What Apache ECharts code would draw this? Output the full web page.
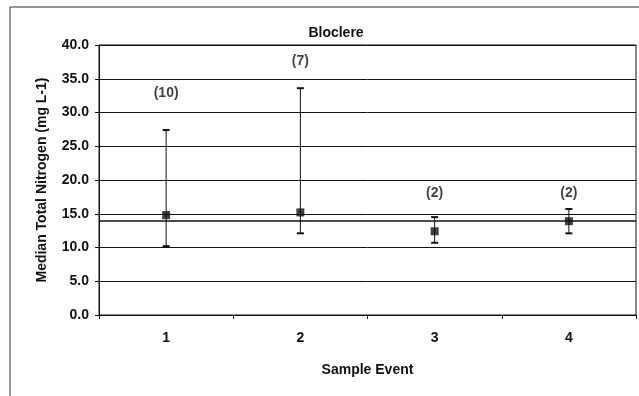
<!DOCTYPE html>
<html>
<head>
<meta charset="utf-8">
<script src="https://cdn.jsdelivr.net/npm/echarts@6/dist/echarts.min.js"></script>
<style>
  html, body { margin: 0; padding: 0; background: #fff; }
  #chart { width: 639px; height: 396px; }
</style>
</head>
<body>
<div id="chart"></div>
<script>
// sample events and medians (mg L-1)
const events = ['1', '2', '3', '4']
const medians = [14.8, 15.2, 12.4, 13.9]
const lows = [10.2, 12.1, 10.7, 12.1]
const highs = [27.4, 33.6, 14.5, 15.7]
// sample counts shown above each event, and where they sit
const counts = ['(10)', '(7)', '(2)', '(2)']
const countY = [32.9, 37.6, 18.1, 18.1]
const refLine = 13.9

const font = 'Liberation Sans, Arial, sans-serif'
const chart = echarts.init(document.getElementById('chart'))

const option = {
  animation: false,
  backgroundColor: '#fff',
  title: {
    text: 'Bloclere',
    left: 331,
    top: 21,
    textAlign: 'center',
    textStyle: { fontFamily: font, fontSize: 14, fontWeight: 'bold', color: '#111' },
  },
  graphic: [
    {
      type: 'rect',
      shape: { x: 10, y: 7, width: 640, height: 400 },
      style: { fill: 'none', stroke: '#333', lineWidth: 1 },
    },
  ],
  grid: { left: 99, right: 3, top: 45, bottom: 81, show: true, borderColor: '#111', borderWidth: 1 },
  xAxis: {
    type: 'category',
    data: events,
    boundaryGap: true,
    name: 'Sample Event',
    nameLocation: 'middle',
    nameGap: 48,
    nameTextStyle: { fontFamily: font, fontSize: 14, fontWeight: 'bold', color: '#111' },
    axisLine: { lineStyle: { color: '#111', width: 1 } },
    axisTick: { show: true, length: 4, alignWithLabel: false, lineStyle: { color: '#111' } },
    axisLabel: { fontFamily: font, fontSize: 14, fontWeight: 'bold', color: '#111', margin: 16 },
    splitLine: { show: false },
  },
  yAxis: {
    type: 'value',
    min: 0,
    max: 40,
    interval: 5,
    name: 'Median Total Nitrogen (mg L-1)',
    nameLocation: 'middle',
    nameGap: 50,
    nameTextStyle: { fontFamily: font, fontSize: 14, fontWeight: 'bold', color: '#111' },
    axisLine: { show: true, lineStyle: { color: '#111', width: 1 } },
    axisTick: { show: true, length: 4, lineStyle: { color: '#111' } },
    axisLabel: {
      fontFamily: font, fontSize: 14, fontWeight: 'bold', color: '#111', margin: 10,
      formatter: (v) => v.toFixed(1),
    },
    splitLine: { show: true, lineStyle: { color: '#111', width: 1 } },
  },
  series: [
    {
      name: 'Range',
      type: 'custom',
      data: events.map((e, i) => [i, lows[i], highs[i]]),
      renderItem: (params, api) => {
        const x = api.value(0)
        const lo = api.coord([x, api.value(1)])
        const hi = api.coord([x, api.value(2)])
        const cap = 3.5
        const style = { stroke: '#111', lineWidth: 1 }
        const capStyle = { stroke: '#111', lineWidth: 2 }
        return {
          type: 'group',
          children: [
            { type: 'line', shape: { x1: lo[0], y1: lo[1], x2: hi[0], y2: hi[1] }, style },
            { type: 'line', shape: { x1: lo[0] - cap, y1: lo[1], x2: lo[0] + cap, y2: lo[1] }, style: capStyle },
            { type: 'line', shape: { x1: hi[0] - cap, y1: hi[1], x2: hi[0] + cap, y2: hi[1] }, style: capStyle },
          ],
        }
      },
      z: 3,
    },
    {
      name: 'Median',
      type: 'scatter',
      symbol: 'rect',
      symbolSize: 8,
      itemStyle: { color: '#111' },
      data: medians.map((m, i) => [i, m]),
      markLine: {
        silent: true,
        symbol: 'none',
        label: { show: false },
        lineStyle: { color: '#111', width: 1.5, type: 'solid' },
        data: [{ yAxis: refLine }],
      },
      z: 4,
    },
    {
      name: 'Counts',
      type: 'scatter',
      symbolSize: 0,
      data: countY.map((y, i) => [i, y]),
      label: {
        show: true,
        position: 'inside',
        formatter: (p) => counts[p.dataIndex],
        fontFamily: font,
        fontSize: 14,
        fontWeight: 'bold',
        color: '#111',
      },
      z: 5,
    },
  ],
}

chart.setOption(option)
</script>
</body>
</html>
